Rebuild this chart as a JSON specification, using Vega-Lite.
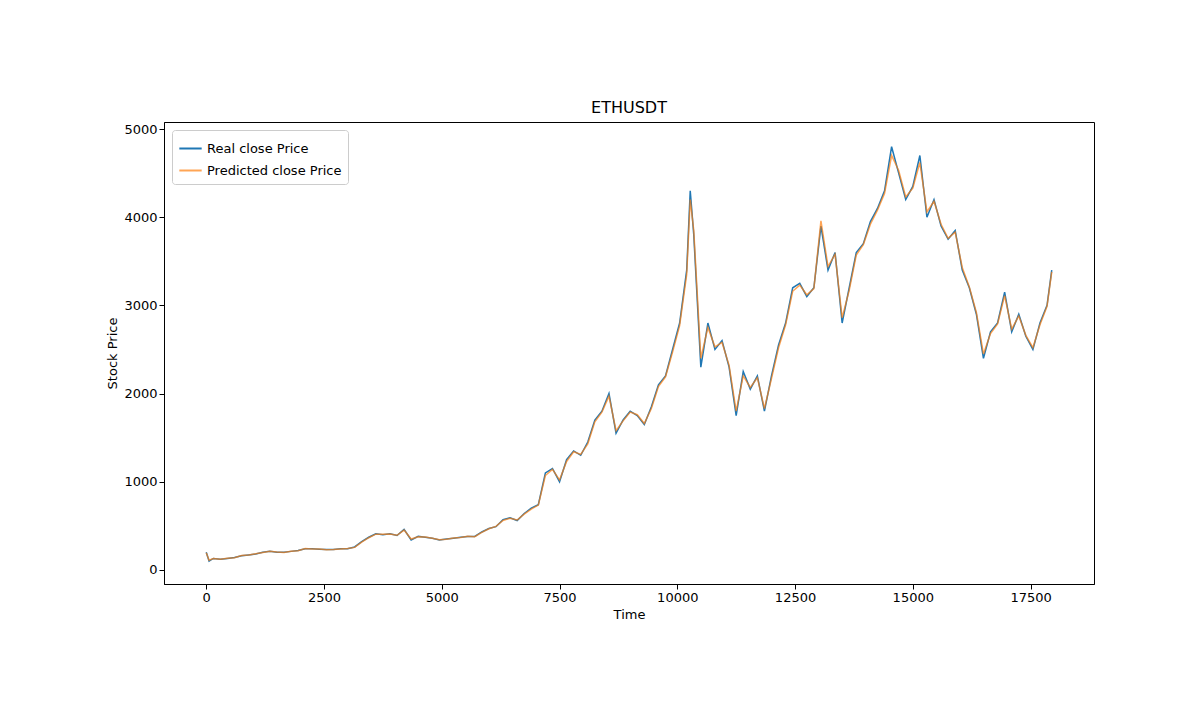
{
  "$schema": "https://vega.github.io/schema/vega-lite/v6.json",
  "width": 930,
  "height": 462,
  "autosize": {"type": "none"},
  "padding": {"left": 164, "top": 122, "right": 100, "bottom": 143},
  "background": "white",
  "title": {"text": "ETHUSDT", "fontSize": 16, "font": "DejaVu Sans", "fontWeight": "normal", "offset": 6},
  "config": {
    "view": {"stroke": "black", "strokeWidth": 1},
    "axis": {"grid": false, "labelFont": "DejaVu Sans", "titleFont": "DejaVu Sans", "labelFontSize": 13, "titleFontSize": 13, "titleFontWeight": "normal", "tickColor": "black", "domainColor": "black", "labelColor": "black", "tickSize": 5}
  },
  "data": {"values": [
    {"t":0,"real":200,"pred":195},{"t":60,"real":100,"pred":110},{"t":150,"real":130,"pred":128},{"t":300,"real":120,"pred":122},{"t":450,"real":130,"pred":131},{"t":600,"real":140,"pred":138},{"t":750,"real":160,"pred":162},{"t":900,"real":170,"pred":168},{"t":1050,"real":180,"pred":183},{"t":1200,"real":200,"pred":198},{"t":1350,"real":210,"pred":212},{"t":1500,"real":200,"pred":203},{"t":1650,"real":200,"pred":198},{"t":1800,"real":210,"pred":212},{"t":1950,"real":220,"pred":218},{"t":2100,"real":240,"pred":242},{"t":2250,"real":240,"pred":238},{"t":2400,"real":235,"pred":237},{"t":2550,"real":230,"pred":228},{"t":2700,"real":230,"pred":232},{"t":2850,"real":240,"pred":238},{"t":3000,"real":240,"pred":243},{"t":3150,"real":260,"pred":255},{"t":3300,"real":320,"pred":315},{"t":3450,"real":370,"pred":365},{"t":3600,"real":410,"pred":405},{"t":3750,"real":400,"pred":403},{"t":3900,"real":410,"pred":407},{"t":4050,"real":390,"pred":393},{"t":4200,"real":460,"pred":452},{"t":4350,"real":340,"pred":350},{"t":4500,"real":380,"pred":376},{"t":4650,"real":370,"pred":372},{"t":4800,"real":360,"pred":358},{"t":4950,"real":340,"pred":343},{"t":5100,"real":350,"pred":348},{"t":5250,"real":360,"pred":362},{"t":5400,"real":370,"pred":368},{"t":5550,"real":380,"pred":382},{"t":5700,"real":380,"pred":377},{"t":5850,"real":430,"pred":425},{"t":6000,"real":470,"pred":466},{"t":6150,"real":490,"pred":493},{"t":6300,"real":570,"pred":560},{"t":6450,"real":590,"pred":585},{"t":6600,"real":560,"pred":566},{"t":6750,"real":640,"pred":632},{"t":6900,"real":700,"pred":690},{"t":7050,"real":740,"pred":735},{"t":7200,"real":1100,"pred":1070},{"t":7350,"real":1150,"pred":1140},{"t":7500,"real":1000,"pred":1020},{"t":7650,"real":1250,"pred":1230},{"t":7800,"real":1350,"pred":1340},{"t":7950,"real":1300,"pred":1310},{"t":8100,"real":1450,"pred":1430},{"t":8250,"real":1700,"pred":1680},{"t":8400,"real":1800,"pred":1790},{"t":8550,"real":2000,"pred":1970},{"t":8700,"real":1550,"pred":1580},{"t":8850,"real":1700,"pred":1690},{"t":9000,"real":1800,"pred":1790},{"t":9150,"real":1750,"pred":1760},{"t":9300,"real":1650,"pred":1660},{"t":9450,"real":1850,"pred":1830},{"t":9600,"real":2100,"pred":2080},{"t":9750,"real":2200,"pred":2190},{"t":9900,"real":2500,"pred":2470},{"t":10050,"real":2800,"pred":2770},{"t":10200,"real":3400,"pred":3350},{"t":10275,"real":4300,"pred":4200},{"t":10350,"real":3800,"pred":3850},{"t":10500,"real":2300,"pred":2400},{"t":10650,"real":2800,"pred":2750},{"t":10800,"real":2500,"pred":2530},{"t":10950,"real":2600,"pred":2580},{"t":11100,"real":2300,"pred":2320},{"t":11250,"real":1750,"pred":1800},{"t":11400,"real":2250,"pred":2200},{"t":11550,"real":2050,"pred":2070},{"t":11700,"real":2200,"pred":2180},{"t":11850,"real":1800,"pred":1830},{"t":12000,"real":2200,"pred":2170},{"t":12150,"real":2550,"pred":2520},{"t":12300,"real":2800,"pred":2780},{"t":12450,"real":3200,"pred":3160},{"t":12600,"real":3250,"pred":3230},{"t":12750,"real":3100,"pred":3120},{"t":12900,"real":3200,"pred":3190},{"t":13050,"real":3900,"pred":3960},{"t":13200,"real":3400,"pred":3440},{"t":13350,"real":3600,"pred":3580},{"t":13500,"real":2800,"pred":2860},{"t":13650,"real":3200,"pred":3170},{"t":13800,"real":3600,"pred":3570},{"t":13950,"real":3700,"pred":3690},{"t":14100,"real":3950,"pred":3920},{"t":14250,"real":4100,"pred":4080},{"t":14400,"real":4300,"pred":4270},{"t":14550,"real":4800,"pred":4700},{"t":14700,"real":4500,"pred":4530},{"t":14850,"real":4200,"pred":4230},{"t":15000,"real":4350,"pred":4330},{"t":15150,"real":4700,"pred":4620},{"t":15300,"real":4000,"pred":4060},{"t":15450,"real":4200,"pred":4180},{"t":15600,"real":3900,"pred":3920},{"t":15750,"real":3750,"pred":3760},{"t":15900,"real":3850,"pred":3830},{"t":16050,"real":3400,"pred":3430},{"t":16200,"real":3200,"pred":3210},{"t":16350,"real":2900,"pred":2920},{"t":16500,"real":2400,"pred":2450},{"t":16650,"real":2700,"pred":2680},{"t":16800,"real":2800,"pred":2790},{"t":16950,"real":3150,"pred":3110},{"t":17100,"real":2700,"pred":2730},{"t":17250,"real":2900,"pred":2880},{"t":17400,"real":2650,"pred":2660},{"t":17550,"real":2500,"pred":2520},{"t":17700,"real":2800,"pred":2780},{"t":17850,"real":3000,"pred":2990},{"t":17950,"real":3400,"pred":3380}
  ]},
  "transform": [
    {"fold": ["real", "pred"], "as": ["key", "v"]},
    {"lookup": "key", "from": {"data": {"values": [{"key": "real", "series": "Real close Price"}, {"key": "pred", "series": "Predicted close Price"}]}, "key": "key", "fields": ["series"]}}
  ],
  "mark": {"type": "line", "strokeWidth": 1.5},
  "encoding": {
    "x": {"field": "t", "type": "quantitative", "title": "Time", "scale": {"domain": [-897, 18847], "nice": false, "zero": false}, "axis": {"values": [0, 2500, 5000, 7500, 10000, 12500, 15000, 17500], "format": "d"}},
    "y": {"field": "v", "type": "quantitative", "title": "Stock Price", "scale": {"domain": [-160, 5080], "nice": false, "zero": false}, "axis": {"values": [0, 1000, 2000, 3000, 4000, 5000], "format": "d"}},
    "color": {"field": "series", "type": "nominal", "sort": ["Real close Price", "Predicted close Price"], "scale": {"domain": ["Real close Price", "Predicted close Price"], "range": ["#1f77b4", "#ff7f0e"]},
      "legend": {"title": null, "orient": "top-left", "offset": 8, "strokeColor": "#cccccc", "padding": 6, "cornerRadius": 3, "fillColor": "white", "labelFont": "DejaVu Sans", "labelFontSize": 13, "symbolType": "stroke", "symbolSize": 500, "symbolStrokeWidth": 2}},
    "opacity": {"field": "series", "type": "nominal", "scale": {"domain": ["Real close Price", "Predicted close Price"], "range": [1, 0.7]}, "legend": null},
    "order": {"field": "key", "sort": "descending"}
  }
}
